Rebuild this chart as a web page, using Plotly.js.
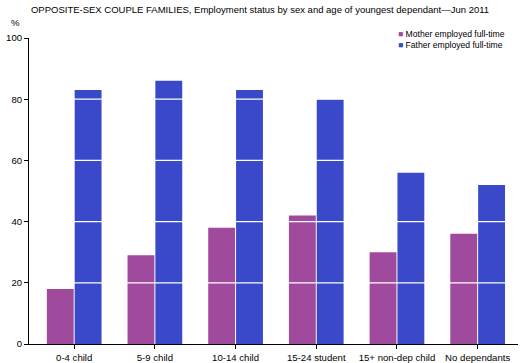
<!DOCTYPE html>
<html>
<head>
<meta charset="utf-8">
<script src="https://cdn.plot.ly/plotly-3.0.1.min.js"></script>
<style>
  body { margin: 0; background: #fff; }
  #chart { width: 529px; height: 363px; }
</style>
</head>
<body>
<div id="chart"></div>
<script>
var categories = ["0-4 child", "5-9 child", "10-14 child", "15-24 student", "15+ non-dep child", "No dependants"];
var motherFullTime = [18, 29, 38, 42, 30, 36];
var fatherFullTime = [83, 86, 83, 80, 56, 52];
var yTicks = [0, 20, 40, 60, 80, 100];

var seriesNames = ["Mother employed full-time", "Father employed full-time"];
var seriesColors = ["#a04a9e", "#3a49ca"];

var font = "Liberation Sans, Arial, sans-serif";

var trace1 = {
  x: categories,
  y: motherFullTime,
  name: seriesNames[0],
  type: "bar",
  marker: { color: seriesColors[0] },
  hoverinfo: "y+name"
};

var trace2 = {
  x: categories,
  y: fatherFullTime,
  name: seriesNames[1],
  type: "bar",
  marker: { color: seriesColors[1] },
  hoverinfo: "y+name"
};

// white gridlines sit on top of the bars in the original
var gridLines = yTicks.slice(1, -1).map(function (v) {
  return {
    type: "line", xref: "paper", yref: "y",
    x0: 0, x1: 1, y0: v, y1: v,
    line: { color: "#ffffff", width: 1.2 },
    layer: "above"
  };
});

// small square legend like the original, built as text
var legendNotes = seriesNames.map(function (name, i) {
  return {
    text: '<span style="color:' + seriesColors[i] + '">\u25A0</span> ' + name,
    xref: "paper", yref: "paper",
    x: 0.75, y: 1.014 - i * 0.036,
    xanchor: "left", yanchor: "middle",
    showarrow: false,
    font: { family: font, size: 8.6, color: "#000000" }
  };
});

var layout = {
  width: 529,
  height: 363,
  autosize: false,
  margin: { l: 29, r: 11, t: 38, b: 19, pad: 0 },
  paper_bgcolor: "#ffffff",
  plot_bgcolor: "#ffffff",
  font: { family: font, size: 9.6, color: "#000000" },
  title: {
    text: "OPPOSITE-SEX COUPLE FAMILIES, Employment status by sex and age of youngest dependant\u2014Jun 2011",
    font: { family: font, size: 9.5, color: "#000000" },
    x: 0.004, xanchor: "left", xref: "paper",
    y: 0.974, yanchor: "middle"
  },
  barmode: "group",
  bargap: 0.31,
  bargroupgap: 0.035,
  showlegend: false,
  xaxis: {
    type: "category",
    range: [-0.56, 5.5],
    showline: true,
    linecolor: "#000000",
    linewidth: 1,
    ticks: "outside",
    ticklen: 4,
    tickcolor: "#000000",
    showgrid: false,
    zeroline: false,
    fixedrange: true
  },
  yaxis: {
    range: [0, 100],
    tickvals: yTicks,
    showline: true,
    linecolor: "#000000",
    linewidth: 1,
    ticks: "outside",
    ticklen: 4,
    tickcolor: "#000000",
    showgrid: false,
    zeroline: false,
    fixedrange: true
  },
  shapes: gridLines,
  annotations: [{
    text: "%",
    xref: "paper", yref: "paper",
    x: -0.028, y: 1.026,
    xanchor: "center", yanchor: "bottom",
    showarrow: false,
    font: { family: font, size: 9.6, color: "#000000" }
  }].concat(legendNotes)
};

Plotly.newPlot("chart", [trace1, trace2], layout, { displayModeBar: false, staticPlot: true });
</script>
</body>
</html>
